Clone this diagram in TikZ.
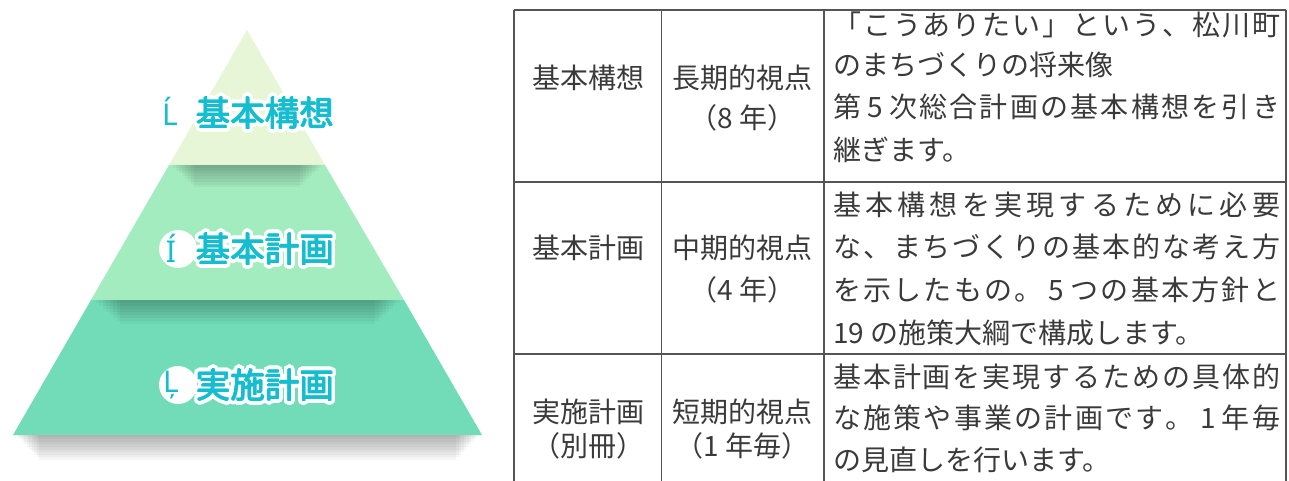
\documentclass[tikz,border=0pt]{standalone}
\usepackage{fontspec}
\setmainfont{Noto Sans CJK JP}
\newfontfamily\latinf{Noto Sans}
\definecolor{tbtext}{HTML}{3A3A3A}
\definecolor{tbline}{HTML}{555555}
\definecolor{labcyan}{HTML}{14BDD0}
\definecolor{bandA}{HTML}{E7F6D6}
\definecolor{bandB}{HTML}{A3ECBF}
\definecolor{bandC}{HTML}{72DCB9}
\def\spreadfirst#1{#1\spreadrest}
\def\spreadrest#1{\ifx\relax#1\else\hfill#1\expandafter\spreadrest\fi}
\newcommand\spreadline[2]{\hbox to #1{\spreadfirst#2\relax}}
\newcommand\dig[1]{\kern4pt#1\kern4pt}
\tikzset{
  tbtxt/.style={text=tbtext, font=\fontsize{28}{30}\selectfont, inner sep=0pt},
  bodyline/.style={tbtxt, anchor=west},
  labtxt/.style={font=\fontsize{34.5}{36}\selectfont, inner sep=0pt, anchor=west},
  glitch/.style={font=\latinf\fontsize{30}{32}\selectfont, inner sep=0pt, text=labcyan},
  gridline/.style={draw=tbline, line width=1.4pt},
  softshade/.style={fill=black, opacity=0.035},
}
\newcommand\halolabel[3]{%
  \foreach \ang in {0,15,...,345}{
    \node[labtxt, text=white] at ([shift={(\ang:4.2)}]#1) {#2};
  }
  \foreach \ang in {0,90,180,270}{
    \node[labtxt, text=labcyan] at ([shift={(\ang:0.35)}]#1) {#2};
  }
  \node[labtxt, text=labcyan] (#3) at (#1) {#2};
}
\begin{document}
\begin{tikzpicture}[x=1pt,y=-1pt]
\useasboundingbox (0,0) rectangle (1289,481);
% ground shadow (soft)
\foreach \i in {1,...,10}{
  \fill[softshade] (14+2.5*\i,434) rectangle (481-2.5*\i,434+2.6*\i);
}
% pyramid bands
\coordinate (apex) at (247,30);
\coordinate (bl) at (13,435);
\coordinate (br) at (482,435);
\fill[bandA] (apex) -- (169,165) -- (325,165) -- cycle;
\fill[bandB] (169,165) -- (91,300) -- (404,300) -- (325,165) -- cycle;
\fill[bandC] (91,300) -- (bl) -- (br) -- (404,300) -- cycle;
% inner shadows under the band edges
\begin{scope}
  \clip (169,165) -- (91,300) -- (404,300) -- (325,165) -- cycle;
  \foreach \i in {1,...,8}{
    \fill[softshade] (170+3*\i,165) rectangle (324-3*\i,165+2.8*\i);
  }
\end{scope}
\begin{scope}
  \clip (91,300) -- (bl) -- (br) -- (404,300) -- cycle;
  \foreach \i in {1,...,8}{
    \fill[softshade] (92+3.5*\i,300) rectangle (403-3.5*\i,300+3*\i);
  }
\end{scope}
% labels
\fill[white] (178,249) circle (19);
\fill[white] (178,385) circle (19);
\node[glitch] (g1) at (170,111) {Ĺ};
\node[glitch] (g2) at (171,248) {Í};
\node[glitch] (g3) at (171,385) {Ļ};
\halolabel{196,113}{基本構想}{l1}
\halolabel{196,249}{基本計画}{l2}
\halolabel{196,385}{実施計画}{l3}
% table grid
\draw[gridline] (514,10) -- (1286,10);
\draw[gridline] (514,182) -- (1286,182);
\draw[gridline] (514,354) -- (1286,354);
\draw[gridline] (514,10) -- (514,481);
\draw[gridline] (661.5,10) -- (661.5,481);
\draw[gridline] (824,10) -- (824,481);
\draw[gridline] (1286,10) -- (1286,481);
% row 1
\node[tbtxt] (r1a) at (588,78) {基本構想};
\node[tbtxt] (r1b) at (742.5,78) {長期的視点};
\node[tbtxt] (r1c) at (742.5,118) {（8 年）};
\node[bodyline] (r1d1) at (833,25) {\spreadline{447pt}{「こうありたい」という、松川町}};
\node[bodyline] (r1d2) at (833,65) {のまちづくりの将来像};
\node[bodyline] (r1d3) at (833,107) {\spreadline{447pt}{第{\dig{5}}次総合計画の基本構想を引き}};
\node[bodyline] (r1d4) at (833,150) {継ぎます。};
% row 2
\node[tbtxt] (r2a) at (588,248) {基本計画};
\node[tbtxt] (r2b) at (742.5,248) {中期的視点};
\node[tbtxt] (r2c) at (742.5,290) {（4 年）};
\node[bodyline] (r2d1) at (833,205) {\spreadline{447pt}{基本構想を実現するために必要}};
\node[bodyline] (r2d2) at (833,247) {\spreadline{447pt}{な、まちづくりの基本的な考え方}};
\node[bodyline] (r2d3) at (833,290) {\spreadline{447pt}{を示したもの。{\dig{5}}つの基本方針と}};
\node[bodyline] (r2d4) at (833,333) {19 の施策大綱で構成します。};
% row 3
\node[tbtxt] (r3a) at (588,412) {実施計画};
\node[tbtxt] (r3b) at (588,446) {（別冊）};
\node[tbtxt] (r3c) at (742.5,412) {短期的視点};
\node[tbtxt] (r3d) at (742.5,446) {（1 年毎）};
\node[bodyline] (r3e1) at (833,377) {\spreadline{447pt}{基本計画を実現するための具体的}};
\node[bodyline] (r3e2) at (833,418) {\spreadline{447pt}{な施策や事業の計画です。{\dig{1}}年毎}};
\node[bodyline] (r3e3) at (833,460) {の見直しを行います。};
\end{tikzpicture}
\end{document}
